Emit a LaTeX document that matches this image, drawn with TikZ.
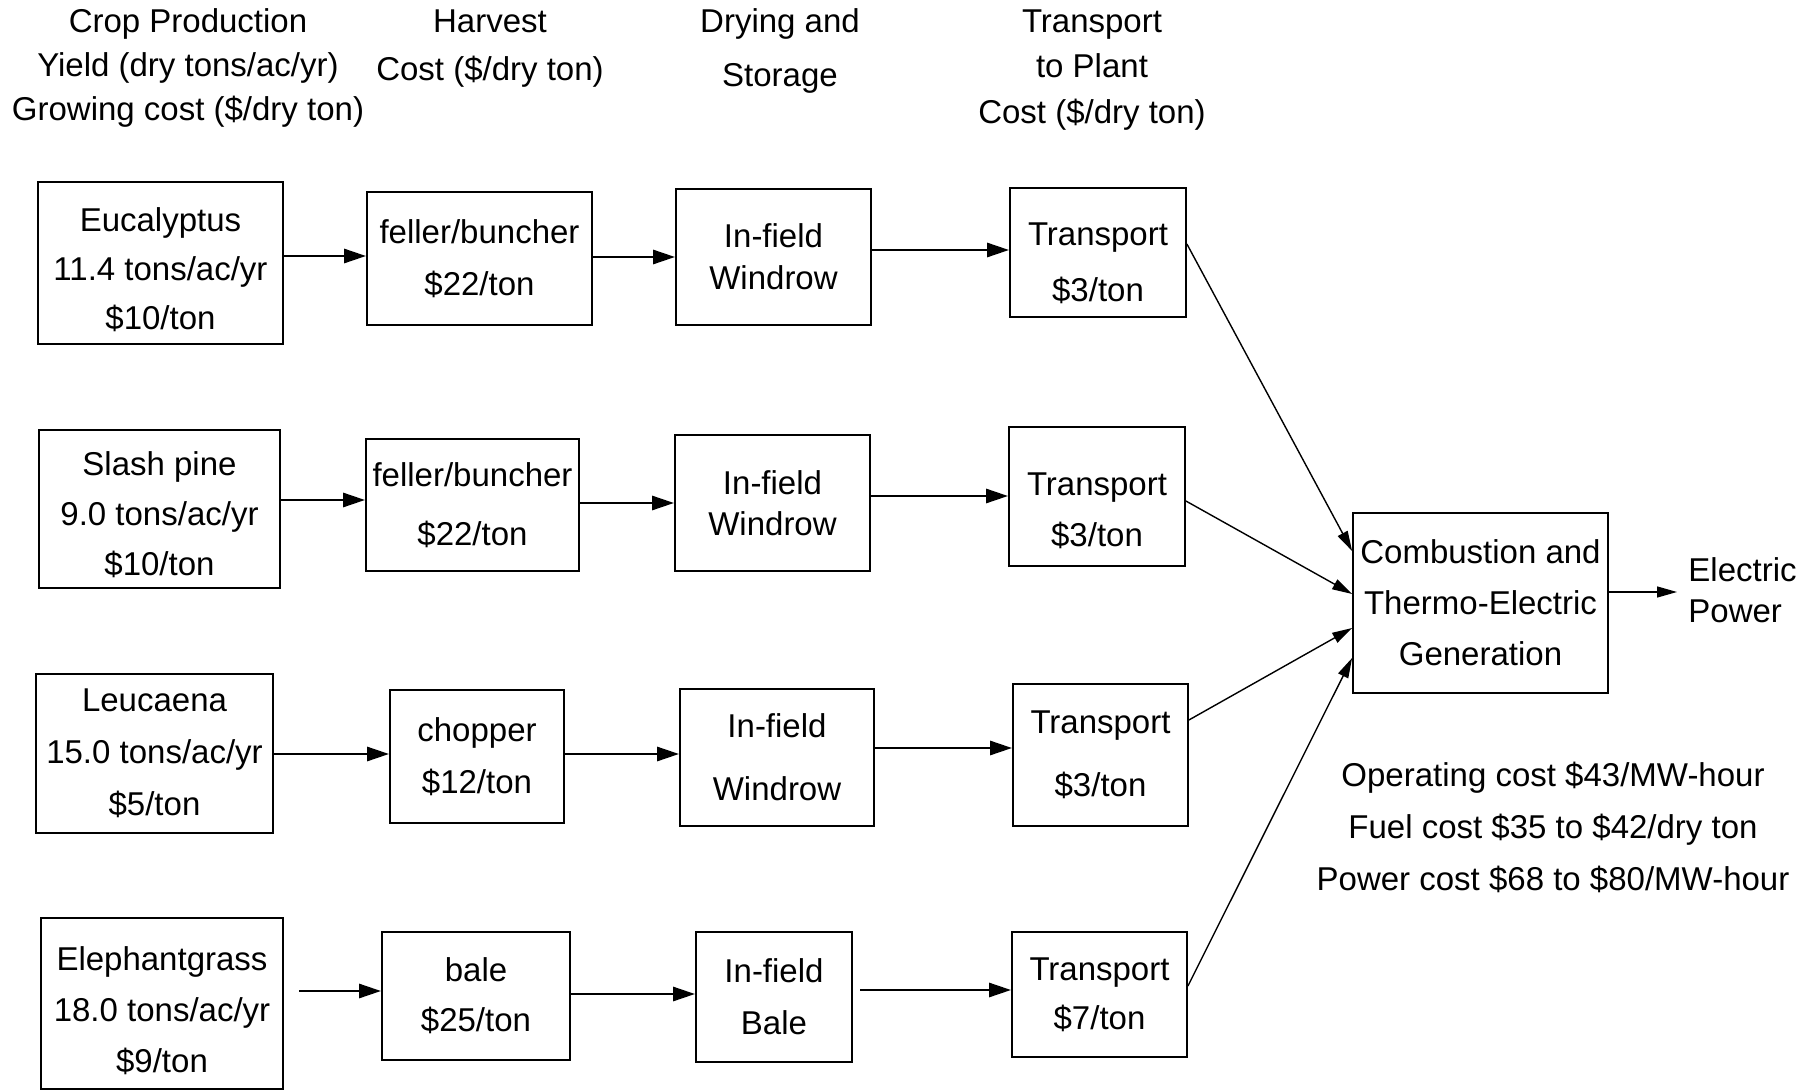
\documentclass[tikz,border=0pt]{standalone}
\usepackage{fontspec}
\setmainfont{Liberation Sans}
\usetikzlibrary{arrows.meta}
\newcommand{\topgap}[1]{\rule{0pt}{#1}}
\begin{document}
\begin{tikzpicture}[x=0.5pt,y=-0.5pt,
  box/.style={draw, line width=0.9pt, inner sep=1pt, align=center},
  wh/.style 2 args={minimum width=#1*0.5pt, minimum height=#2*0.5pt},
  fs/.style={font=\fontsize{16.5}{#1}\selectfont},
  harr/.style={line width=1.4pt, -{Triangle[length=11pt,width=7pt]}},
  darr/.style={line width=0.7pt, -{Triangle[length=10pt,width=5.5pt]}},
  txt/.style={align=center, inner sep=0pt}]
\useasboundingbox (0,0) rectangle (1816,1091);

% headers
\node[txt,fs=22pt] (hd1) at (188,68) {Crop Production\\Yield (dry tons/ac/yr)\\Growing cost (\$/dry ton)};
\node[txt,fs=24pt] (hd2) at (490,49) {Harvest\\Cost (\$/dry ton)};
\node[txt,fs=27pt] (hd3) at (780,51) {Drying and\\Storage};
\node[txt,fs=22.75pt] (hd4) at (1092,70) {Transport\\to Plant\\Cost (\$/dry ton)};

% row 1
\node[box,wh={245}{162},fs=24.5pt] (e1) at (160.5,263) {\topgap{19pt}Eucalyptus\\11.4 tons/ac/yr\\\$10/ton};
\node[box,wh={225}{133},fs=26pt] (h1) at (479.5,258.5) {feller/buncher\\\$22/ton};
\node[box,wh={195}{136},fs=21pt] (d1) at (773.5,257) {In-field\\Windrow};
\node[box,wh={176}{129},fs=28pt] (t1) at (1098,252.5) {\topgap{22pt}Transport\\\$3/ton};

% row 2
\node[box,wh={241}{158},fs=25pt] (e2) at (159.5,509) {\topgap{18pt}Slash pine\\9.0 tons/ac/yr\\\$10/ton};
\node[box,wh={213}{132},fs=29.5pt] (h2) at (472.5,505) {feller/buncher\\\$22/ton};
\node[box,wh={195}{136},fs=20.5pt] (d2) at (772.5,503) {In-field\\Windrow};
\node[box,wh={176}{139},fs=25.5pt] (t2) at (1097,496.5) {\topgap{26pt}Transport\\\$3/ton};

% row 3
\node[box,wh={237}{159},fs=26pt] (e3) at (154.5,753.5) {Leucaena\\15.0 tons/ac/yr\\\$5/ton};
\node[box,wh={174}{133},fs=26pt] (h3) at (477,756.5) {chopper\\\$12/ton};
\node[box,wh={194}{137},fs=31.5pt] (d3) at (777,757.5) {In-field\\Windrow};
\node[box,wh={175}{142},fs=31.5pt] (t3) at (1100.5,755) {Transport\\\$3/ton};

% row 4
\node[box,wh={242}{171},fs=25.5pt] (e4) at (162,1003.5) {\topgap{19pt}Elephantgrass\\18.0 tons/ac/yr\\\$9/ton};
\node[box,wh={188}{128},fs=25pt] (h4) at (476,996) {bale\\\$25/ton};
\node[box,wh={156}{130},fs=26pt] (d4) at (774,997) {In-field\\Bale};
\node[box,wh={175}{125},fs=24.5pt] (t4) at (1099.5,994.5) {Transport\\\$7/ton};

% combustion
\node[box,wh={255}{180},fs=25.5pt] (c) at (1480.5,603) {Combustion and\\Thermo-Electric\\Generation};
\node[txt,fs=20.5pt,align=left,anchor=west,inner xsep=5.5pt] (pw) at (1677,590) {Electric\\Power};
\node[txt,fs=26pt] (notes) at (1553,827) {Operating cost \$43/MW-hour\\Fuel cost \$35 to \$42/dry ton\\Power cost \$68 to \$80/MW-hour};

% horizontal connectors
\draw[harr] (e1.east |- 0,256) -- (h1.west |- 0,256);
\draw[harr] (h1.east |- 0,257) -- (d1.west |- 0,257);
\draw[harr] (d1.east |- 0,250) -- (t1.west |- 0,250);
\draw[harr] (e2.east |- 0,500) -- (h2.west |- 0,500);
\draw[harr] (h2.east |- 0,503) -- (d2.west |- 0,503);
\draw[harr] (d2.east |- 0,496) -- (t2.west |- 0,496);
\draw[harr] (e3.east |- 0,754) -- (h3.west |- 0,754);
\draw[harr] (h3.east |- 0,754) -- (d3.west |- 0,754);
\draw[harr] (d3.east |- 0,748) -- (t3.west |- 0,748);
\coordinate (s4) at (299,991);
\coordinate (s5) at (860,990);
\draw[harr] (s4) -- (h4.west |- s4);
\draw[harr] (h4.east |- 0,994) -- (d4.west |- 0,994);
\draw[harr] (s5) -- (t4.west |- s5);

% diagonal connectors
\draw[darr] (t1.east |- 0,244) -- (c.west |- 0,551);
\draw[darr] (t2.east |- 0,501) -- (c.west |- 0,594);
\draw[darr] (t3.east |- 0,720) -- (c.west |- 0,628);
\draw[darr] (t4.east |- 0,986) -- (c.west |- 0,658);
\draw[darr] (c.east |- 0,592) -- (pw.west |- 0,592);
\end{tikzpicture}
\end{document}
